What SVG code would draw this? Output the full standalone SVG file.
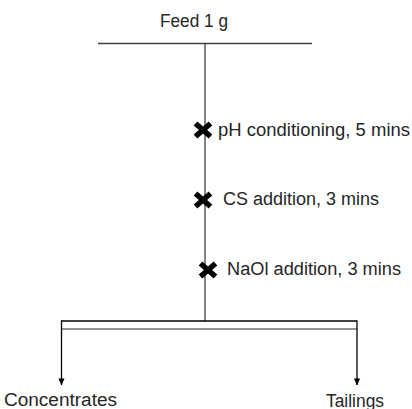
<svg xmlns="http://www.w3.org/2000/svg" width="412" height="409" viewBox="0 0 412 409">
<defs>
<style>
.t{font-family:"Liberation Sans",Arial,sans-serif;font-size:18px;fill:#262626}
.ln{stroke:#404040;stroke-width:1.3;fill:none}
.x{stroke:#000;stroke-width:5.5;stroke-linecap:butt}
</style>
<marker id="ah" viewBox="0 0 8 8" refX="7.5" refY="4" markerWidth="7" markerHeight="7" markerUnits="userSpaceOnUse" orient="auto">
<path d="M0,0.5 L8,4 L0,7.5 Z" fill="#000"/>
</marker>
<g id="cross"><line class="x" x1="-7.5" y1="-6.5" x2="7.5" y2="6.5"/><line class="x" x1="-7.5" y1="6.5" x2="7.5" y2="-6.5"/></g>
</defs>
<rect width="412" height="409" fill="#fff"/>
<g id="connectors">
<line class="ln" x1="98" y1="43.5" x2="312" y2="43.5"/>
<line class="ln" x1="205" y1="43.5" x2="205" y2="321"/>
<line x1="61" y1="321" x2="357" y2="321" stroke="#000" stroke-width="1.3"/>
<line x1="61" y1="329" x2="357" y2="329" stroke="#707070" stroke-width="1.3"/>
<line x1="61.5" y1="320.5" x2="61.5" y2="385" stroke="#000" stroke-width="1.3" marker-end="url(#ah)"/>
<line x1="357" y1="320.5" x2="357" y2="385" stroke="#000" stroke-width="1.3" marker-end="url(#ah)"/>
</g>
<g id="feed"><text class="t" x="160" y="27" textLength="68" lengthAdjust="spacingAndGlyphs">Feed 1 g</text></g>
<g id="ph">
<use href="#cross" x="203" y="130"/>
<text class="t" x="218" y="136" textLength="192" lengthAdjust="spacingAndGlyphs">pH conditioning, 5 mins</text>
</g>
<g id="cs">
<use href="#cross" x="203" y="200"/>
<text class="t" x="223" y="205" textLength="156" lengthAdjust="spacingAndGlyphs">CS addition, 3 mins</text>
</g>
<g id="naol">
<use href="#cross" x="208" y="270"/>
<text class="t" x="227" y="275" textLength="174" lengthAdjust="spacingAndGlyphs">NaOl addition, 3 mins</text>
</g>
<g id="concentrates"><text class="t" x="4" y="406" textLength="113" lengthAdjust="spacingAndGlyphs">Concentrates</text></g>
<g id="tailings"><text class="t" x="326" y="407" textLength="58" lengthAdjust="spacingAndGlyphs">Tailings</text></g>
</svg>
